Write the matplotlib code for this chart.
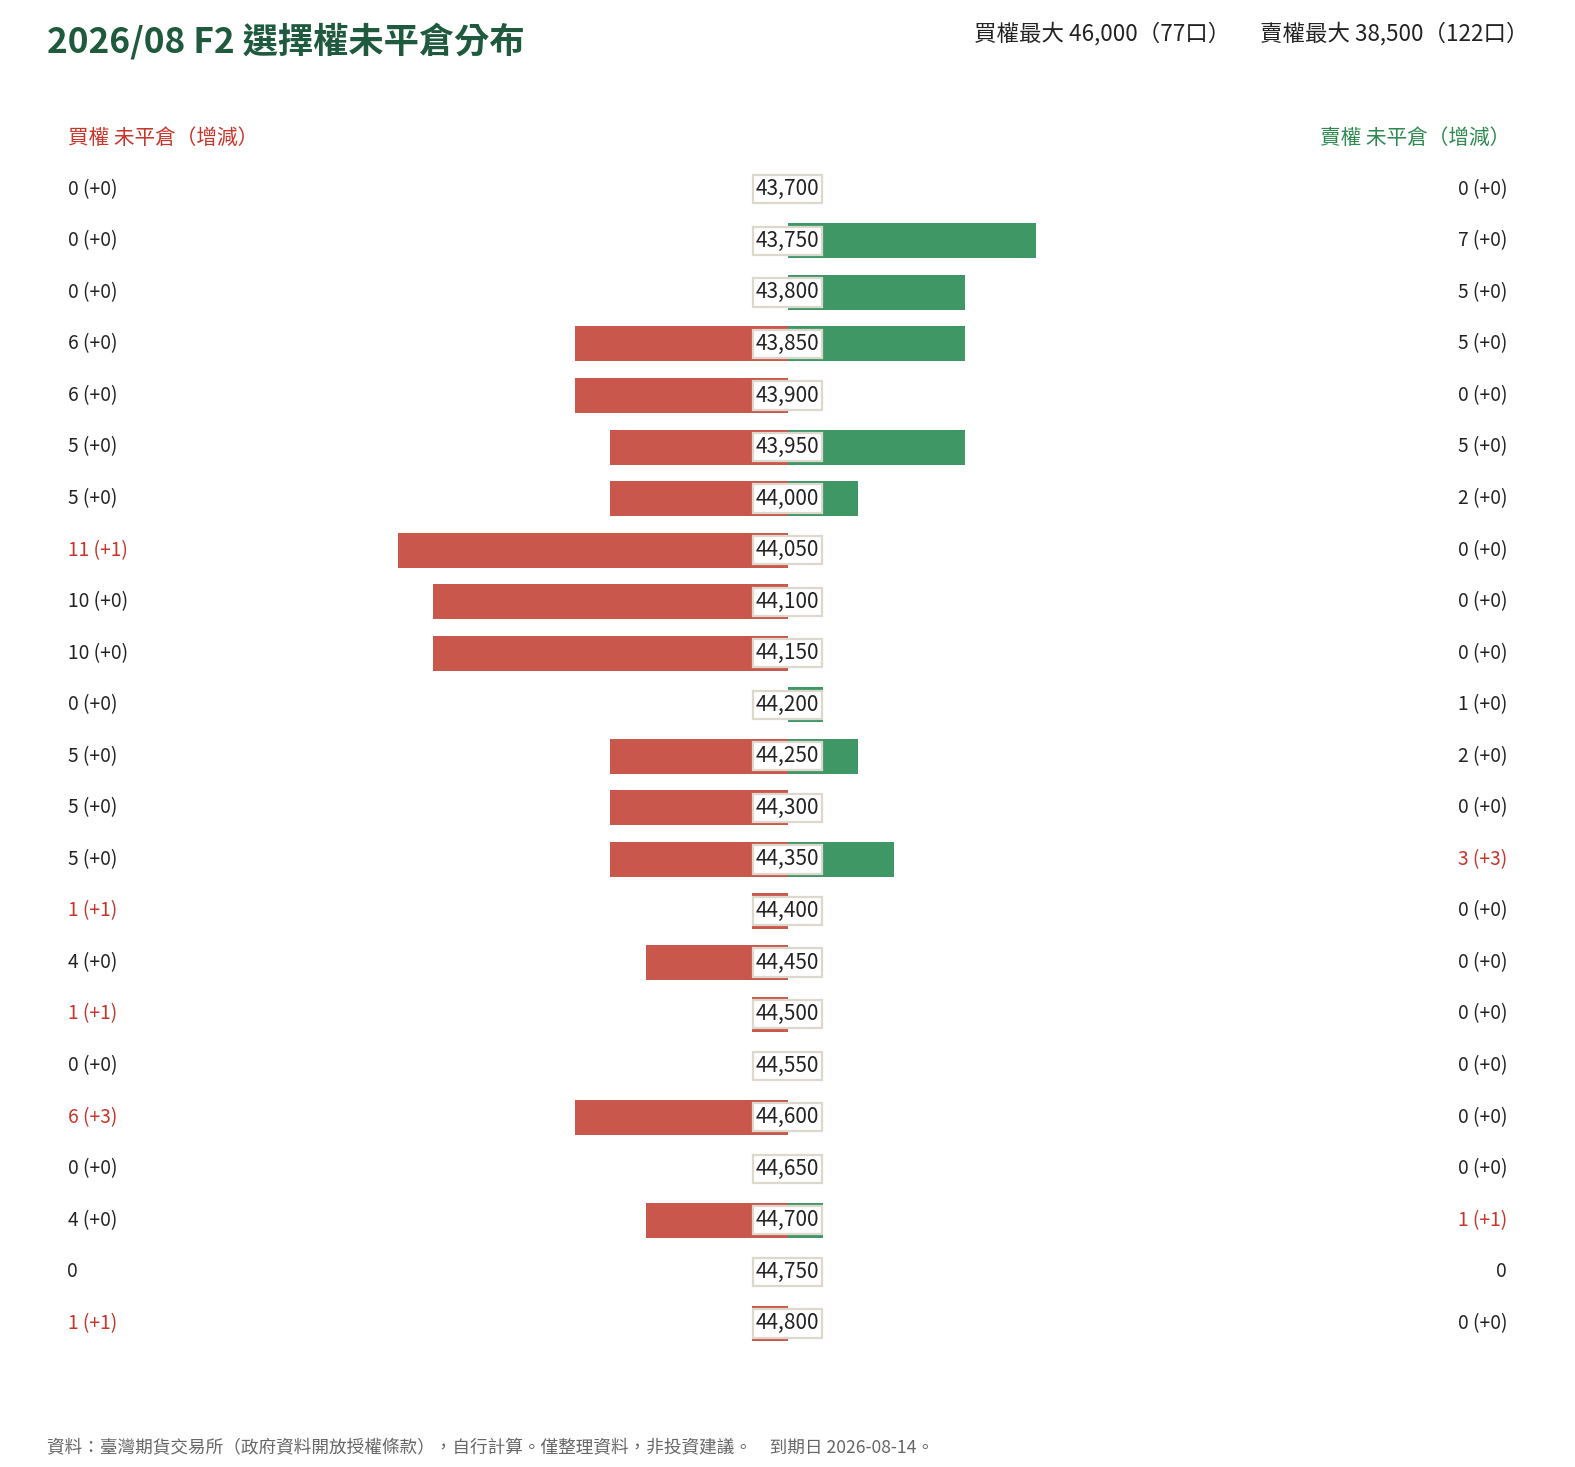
import matplotlib
matplotlib.use("Agg")
import matplotlib.pyplot as plt
from matplotlib.transforms import blended_transform_factory

plt.rcParams["font.family"] = ["Noto Sans CJK TC", "DejaVu Sans"]

# ---- data ----
strikes = [43700, 43750, 43800, 43850, 43900, 43950, 44000, 44050, 44100, 44150,
           44200, 44250, 44300, 44350, 44400, 44450, 44500, 44550, 44600, 44650,
           44700, 44750, 44800]
call_oi = [0, 0, 0, 6, 6, 5, 5, 11, 10, 10, 0, 5, 5, 5, 1, 4, 1, 0, 6, 0, 4, 0, 1]
call_chg = [0, 0, 0, 0, 0, 0, 0, 1, 0, 0, 0, 0, 0, 0, 1, 0, 1, 0, 3, 0, 0, None, 1]
put_oi = [0, 7, 5, 5, 0, 5, 2, 0, 0, 0, 1, 2, 0, 3, 0, 0, 0, 0, 0, 0, 1, 0, 0]
put_chg = [0, 0, 0, 0, 0, 0, 0, 0, 0, 0, 0, 0, 0, 3, 0, 0, 0, 0, 0, 0, 1, None, 0]

title = "2026/08 F2 選擇權未平倉分布"
call_max = "買權最大 46,000（77口）"
put_max = "賣權最大 38,500（122口）"
call_header = "買權 未平倉（增減）"
put_header = "賣權 未平倉（增減）"
footer = "資料：臺灣期貨交易所（政府資料開放授權條款），自行計算。僅整理資料，非投資建議。　到期日 2026-08-14。"

# ---- style ----
W, H = 1575, 1467
RED_BAR = "#c9574b"
GREEN_BAR = "#3f9766"
RED_TXT = "#c8352a"
GREEN_TXT = "#2f8a50"
TITLE_C = "#1f5a3e"
TEXT_C = "#222222"

px_per_unit = 35.45
row0, row_step = 189.3, 51.55

fig = plt.figure(figsize=(W / 100, H / 100), dpi=100)
ax = fig.add_axes([0, 0, 1, 1])
half = (W / 2) / px_per_unit
ax.set_xlim(-half, half)
ax.set_ylim((H - row0) / row_step, -row0 / row_step)
ax.axis("off")

rows = list(range(len(strikes)))
ax.barh(rows, [-v for v in call_oi], height=0.68, color=RED_BAR, zorder=2)
ax.barh(rows, put_oi, height=0.68, color=GREEN_BAR, zorder=2)

for i, k in enumerate(strikes):
    ax.text(0, i, f"{k:,}", ha="center", va="center", fontsize=15, color=TEXT_C, zorder=5,
            bbox=dict(boxstyle="square,pad=0.15", fc="white", ec="#dcd8cb", lw=1.6))

tr = blended_transform_factory(fig.transFigure, ax.transData)


def label(v, c):
    if c is None:
        return str(v), TEXT_C
    return f"{v} (+{c})", (RED_TXT if c > 0 else TEXT_C)


for i in rows:
    s, col = label(call_oi[i], call_chg[i])
    ax.text(67.5 / W, i, s, transform=tr, ha="left", va="center", fontsize=13.8, color=col)
    s, col = label(put_oi[i], put_chg[i])
    ax.text(1507 / W, i, s, transform=tr, ha="right", va="center", fontsize=13.8, color=col)

fig.text(47 / W, 1 - 41 / H, title, ha="left", va="center", fontsize=25.4, fontweight="bold", color=TITLE_C)
fig.text(1230 / W, 1 - 33.5 / H, call_max, ha="right", va="center", fontsize=16.2, color=TEXT_C)
fig.text(1529 / W, 1 - 33.5 / H, put_max, ha="right", va="center", fontsize=16.2, color=TEXT_C)
fig.text(67.5 / W, 1 - 137.5 / H, call_header, ha="left", va="center", fontsize=14.9, color=RED_TXT)
fig.text(1510 / W, 1 - 137.5 / H, put_header, ha="right", va="center", fontsize=14.9, color=GREEN_TXT)
fig.text(47 / W, 1 - 1448 / H, footer, ha="left", va="center", fontsize=12.7, color="#666666")

fig.savefig("out.png", dpi=100, facecolor="white")
